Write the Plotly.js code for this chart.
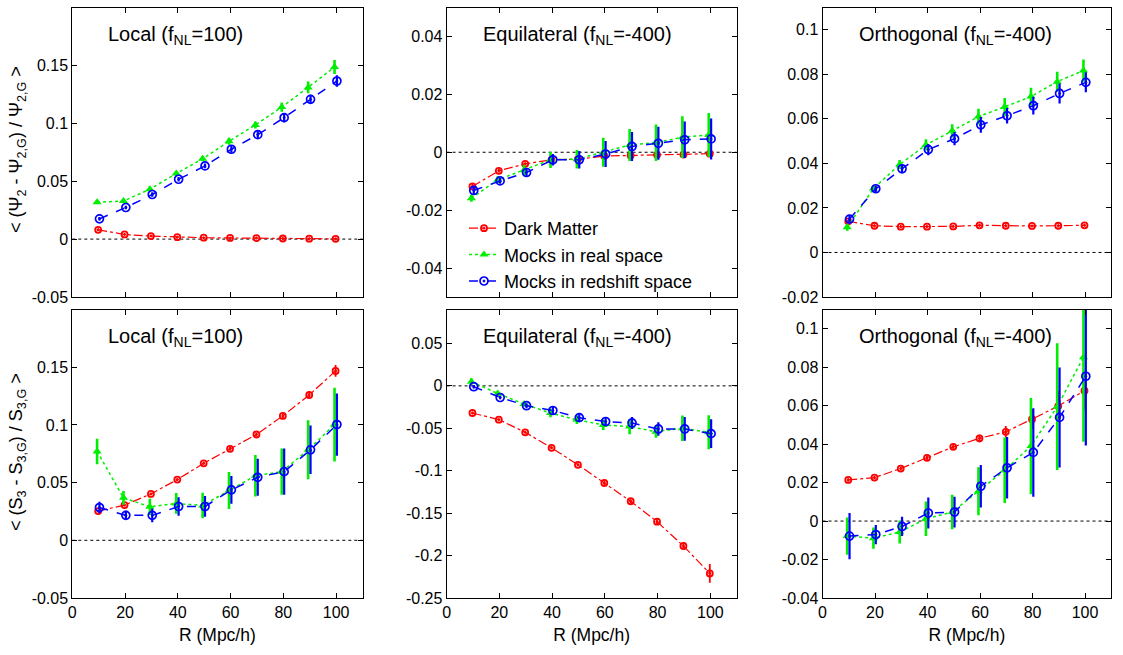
<!DOCTYPE html>
<html>
<head>
<meta charset="utf-8">
<script src="https://cdn.plot.ly/plotly-3.0.1.min.js"></script>
<style>html,body{margin:0;padding:0;background:#fff;}#chart{width:1123px;height:655px;}</style>
</head>
<body>
<div id="chart"></div>
<script>
// ---------- data ----------
const R = [10, 20, 30, 40, 50, 60, 70, 80, 90, 100];
const seriesNames = ["Dark Matter", "Mocks in real space", "Mocks in redshift space"];
const panelTitles = ["Local (f<sub>NL</sub>=100)", "Equilateral (f<sub>NL</sub>=-400)", "Orthogonal (f<sub>NL</sub>=-400)",
                     "Local (f<sub>NL</sub>=100)", "Equilateral (f<sub>NL</sub>=-400)", "Orthogonal (f<sub>NL</sub>=-400)"];
const yTitleTop = "&lt; (Ψ<sub>2</sub> - Ψ<sub>2,G</sub>) / Ψ<sub>2,G</sub> &gt;";
const yTitleBottom = "&lt; (S<sub>3</sub> - S<sub>3,G</sub>) / S<sub>3,G</sub> &gt;";
const xTitle = "R (Mpc/h)";
const xTickVals = [0, 20, 40, 60, 80, 100];
const xTickText = ["0", "20", "40", "60", "80", "100"];

// Psi2 - Local
const psiLocalDM = [0.008, 0.004, 0.0026, 0.0017, 0.0012, 0.001, 0.0009, 0.0005, 0.0004, 0.0002];
const psiLocalDMErr = [0.001, 0.0008, 0.0006, 0.0006, 0.0006, 0.0006, 0.0006, 0.0006, 0.0006, 0.0006];
const psiLocalReal = [0.0319, 0.0328, 0.0431, 0.0566, 0.0693, 0.0845, 0.0986, 0.114, 0.131, 0.1486];
const psiLocalRealErr = [0.0015, 0.0015, 0.002, 0.002, 0.002, 0.003, 0.003, 0.004, 0.005, 0.006];
const psiLocalRsd = [0.0175, 0.0273, 0.0385, 0.0517, 0.0632, 0.0776, 0.0902, 0.1049, 0.1207, 0.1365];
const psiLocalRsdErr = [0.0015, 0.0015, 0.002, 0.002, 0.002, 0.003, 0.003, 0.004, 0.004, 0.005];

// Psi2 - Equilateral
const psiEquilDM = [-0.0118, -0.0064, -0.004, -0.0026, -0.0024, -0.0013, -0.0011, -0.0009, -0.0008, -0.0005];
const psiEquilDMErr = [0.0008, 0.0006, 0.0005, 0.0005, 0.0005, 0.0006, 0.0006, 0.0006, 0.0006, 0.0006];
const psiEquilReal = [-0.0159, -0.0095, -0.0061, -0.0026, -0.0024, 0.0, 0.0025, 0.0033, 0.0052, 0.006];
const psiEquilRealErr = [0.0012, 0.0012, 0.0018, 0.0028, 0.0032, 0.005, 0.0055, 0.0063, 0.0072, 0.0076];
const psiEquilRsd = [-0.0132, -0.0099, -0.007, -0.0026, -0.0026, -0.0006, 0.002, 0.0031, 0.0043, 0.0046];
const psiEquilRsdErr = [0.0015, 0.001, 0.0015, 0.002, 0.003, 0.0045, 0.005, 0.0057, 0.0063, 0.0071];

// Psi2 - Orthogonal
const psiOrthoDM = [0.014, 0.012, 0.0116, 0.0116, 0.0117, 0.0122, 0.012, 0.0119, 0.012, 0.0122];
const psiOrthoDMErr = [0.0005, 0.0005, 0.0005, 0.0005, 0.0005, 0.0005, 0.0005, 0.0005, 0.0005, 0.0005];
const psiOrthoReal = [0.0113, 0.0287, 0.0395, 0.0483, 0.0546, 0.061, 0.0654, 0.070, 0.0767, 0.0817];
const psiOrthoRealErr = [0.0015, 0.0015, 0.002, 0.0025, 0.003, 0.0035, 0.004, 0.004, 0.0045, 0.005];
const psiOrthoRsd = [0.015, 0.0286, 0.0376, 0.0462, 0.0511, 0.0573, 0.0614, 0.0659, 0.0714, 0.0764];
const psiOrthoRsdErr = [0.0015, 0.0015, 0.002, 0.0025, 0.003, 0.0035, 0.0035, 0.004, 0.0045, 0.0045];

// S3 - Local
const s3LocalDM = [0.0253, 0.0305, 0.0402, 0.0526, 0.0667, 0.0793, 0.0917, 0.1078, 0.1259, 0.1468];
const s3LocalDMErr = [0.001, 0.001, 0.001, 0.001, 0.001, 0.0015, 0.0015, 0.002, 0.003, 0.005];
const s3LocalReal = [0.077, 0.0368, 0.029, 0.0319, 0.0302, 0.0431, 0.056, 0.0595, 0.0784, 0.1003];
const s3LocalRealErr = [0.011, 0.006, 0.007, 0.009, 0.011, 0.016, 0.018, 0.02, 0.0256, 0.032];
const s3LocalRsd = [0.0284, 0.0216, 0.0216, 0.0293, 0.0293, 0.0437, 0.0546, 0.0595, 0.0784, 0.1003];
const s3LocalRsdErr = [0.005, 0.004, 0.006, 0.008, 0.009, 0.012, 0.016, 0.02, 0.021, 0.027];

// S3 - Equilateral
const s3EquilDM = [-0.032, -0.0398, -0.0547, -0.073, -0.093, -0.1145, -0.136, -0.160, -0.1887, -0.221];
const s3EquilDMErr = [0.001, 0.001, 0.001, 0.0015, 0.0015, 0.002, 0.002, 0.003, 0.004, 0.011];
const s3EquilReal = [0.005, -0.009, -0.0215, -0.032, -0.04, -0.046, -0.048, -0.054, -0.050, -0.0547];
const s3EquilRealErr = [0.004, 0.003, 0.003, 0.005, 0.005, 0.006, 0.009, 0.007, 0.015, 0.02];
const s3EquilRsd = [-0.001, -0.0137, -0.0234, -0.029, -0.0375, -0.042, -0.0437, -0.0508, -0.0508, -0.0563];
const s3EquilRsdErr = [0.002, 0.002, 0.003, 0.005, 0.004, 0.005, 0.007, 0.008, 0.014, 0.017];

// S3 - Orthogonal
const s3OrthoDM = [0.0214, 0.0226, 0.0273, 0.0329, 0.0386, 0.043, 0.0464, 0.053, 0.0598, 0.0678];
const s3OrthoDMErr = [0.0008, 0.0008, 0.001, 0.0012, 0.0015, 0.002, 0.003, 0.005, 0.008, 0.01];
const s3OrthoReal = [-0.0078, -0.0089, -0.0057, 0.0012, 0.0047, 0.0155, 0.0264, 0.039, 0.0595, 0.0852];
const s3OrthoRealErr = [0.0097, 0.0055, 0.006, 0.009, 0.009, 0.0125, 0.017, 0.025, 0.033, 0.044];
const s3OrthoRsd = [-0.0078, -0.007, -0.0028, 0.0042, 0.0047, 0.0181, 0.0277, 0.0357, 0.0539, 0.0753];
const s3OrthoRsdErr = [0.012, 0.005, 0.005, 0.008, 0.008, 0.011, 0.016, 0.023, 0.026, 0.036];

// y ticks per panel
const yTicks1 = [-0.05, 0, 0.05, 0.1, 0.15, 0.2];
const yTickText1 = ["-0.05", "0", "0.05", "0.1", "0.15", "0.2"];
const yTicks2 = [-0.04, -0.02, 0, 0.02, 0.04];
const yTickText2 = ["-0.04", "-0.02", "0", "0.02", "0.04"];
const yTicks3 = [-0.02, 0, 0.02, 0.04, 0.06, 0.08, 0.1];
const yTickText3 = ["-0.02", "0", "0.02", "0.04", "0.06", "0.08", "0.1"];
const yTicks4 = [-0.05, 0, 0.05, 0.1, 0.15];
const yTickText4 = ["-0.05", "0", "0.05", "0.1", "0.15"];
const yTicks5 = [-0.25, -0.2, -0.15, -0.1, -0.05, 0, 0.05];
const yTickText5 = ["-0.25", "-0.2", "-0.15", "-0.1", "-0.05", "0", "0.05"];
const yTicks6 = [-0.04, -0.02, 0, 0.02, 0.04, 0.06, 0.08, 0.1];
const yTickText6 = ["-0.04", "-0.02", "0", "0.02", "0.04", "0.06", "0.08", "0.1"];

// ---------- construction ----------
const W = 1123, H = 655;
const FONT = "Liberation Sans, Arial, Helvetica, sans-serif";
const panels = [
  {dm: psiLocalDM, dmE: psiLocalDMErr, re: psiLocalReal, reE: psiLocalRealErr, rs: psiLocalRsd, rsE: psiLocalRsdErr, range: [-0.05, 0.2], tv: yTicks1, tt: yTickText1},
  {dm: psiEquilDM, dmE: psiEquilDMErr, re: psiEquilReal, reE: psiEquilRealErr, rs: psiEquilRsd, rsE: psiEquilRsdErr, range: [-0.05, 0.05], tv: yTicks2, tt: yTickText2},
  {dm: psiOrthoDM, dmE: psiOrthoDMErr, re: psiOrthoReal, reE: psiOrthoRealErr, rs: psiOrthoRsd, rsE: psiOrthoRsdErr, range: [-0.02, 0.11], tv: yTicks3, tt: yTickText3},
  {dm: s3LocalDM, dmE: s3LocalDMErr, re: s3LocalReal, reE: s3LocalRealErr, rs: s3LocalRsd, rsE: s3LocalRsdErr, range: [-0.05, 0.2], tv: yTicks4, tt: yTickText4},
  {dm: s3EquilDM, dmE: s3EquilDMErr, re: s3EquilReal, reE: s3EquilRealErr, rs: s3EquilRsd, rsE: s3EquilRsdErr, range: [-0.25, 0.09], tv: yTicks5, tt: yTickText5},
  {dm: s3OrthoDM, dmE: s3OrthoDMErr, re: s3OrthoReal, reE: s3OrthoRealErr, rs: s3OrthoRsd, rsE: s3OrthoRsdErr, range: [-0.04, 0.11], tv: yTicks6, tt: yTickText6}
];

const colPx = [[72.3, 362.5], [446.6, 736.7], [822.5, 1111.3]];
const rowPx = [[7.5, 297], [309.5, 598]];

const styles = [
  {color: "#ff0000", dash: "dashdot", width: 1.2, symbol: "circle-open-dot", size: 6, mlw: 1.8, dx: -0.2, eth: 1.8},
  {color: "#00ee00", dash: "dot", width: 1.5, symbol: "triangle-up", size: 8, mlw: 0, dx: -0.6, eth: 2.6},
  {color: "#0000ff", dash: "dash", width: 1.5, symbol: "circle-open-dot", size: 8, mlw: 1.7, dx: 0.3, eth: 2.2}
];

const traces = [];
const layout = {
  width: W, height: H,
  margin: {l: 0, r: 0, t: 0, b: 0},
  paper_bgcolor: "#ffffff", plot_bgcolor: "#ffffff",
  font: {family: FONT, size: 16, color: "#000"},
  showlegend: true,
  legend: {x: 464 / W, y: 1 - 210 / H, xanchor: "left", yanchor: "top", bgcolor: "rgba(0,0,0,0)",
           font: {family: FONT, size: 18, color: "#000"}, tracegroupgap: 0},
  annotations: [], shapes: []
};

panels.forEach((p, i) => {
  const row = Math.floor(i / 3), col = i % 3;
  const n = i + 1;
  const xa = n === 1 ? "x" : "x" + n, ya = n === 1 ? "y" : "y" + n;
  const xk = n === 1 ? "xaxis" : "xaxis" + n, yk = n === 1 ? "yaxis" : "yaxis" + n;
  layout[xk] = {
    domain: [colPx[col][0] / W, colPx[col][1] / W], anchor: ya, range: [0, 110],
    tickvals: xTickVals, ticktext: xTickText, showticklabels: row === 1,
    ticks: "inside", ticklen: 5, tickcolor: "#000", showline: true, linecolor: "#000", linewidth: 1,
    mirror: "ticks", showgrid: false, zeroline: false, tickfont: {size: 16, family: FONT}
  };
  layout[yk] = {
    domain: [1 - rowPx[row][1] / H, 1 - rowPx[row][0] / H], anchor: xa, range: p.range,
    tickvals: p.tv, ticktext: p.tt, ticks: "inside", ticklen: 5, tickcolor: "#000",
    showline: true, linecolor: "#000", linewidth: 1, mirror: "ticks", showgrid: false, zeroline: false,
    tickfont: {size: 16, family: FONT}
  };
  if (row === 1) {
    layout[xk].title = {text: xTitle, font: {size: 17.5, family: FONT}, standoff: 8};
  }
  // zero line
  layout.shapes.push({type: "line", xref: xa + " domain", yref: ya, x0: 0, x1: 1, y0: 0, y1: 0,
                      line: {color: "#000", width: 1, dash: "dot"}, layer: "below"});
  // panel title
  layout.annotations.push({text: panelTitles[i], xref: "paper", yref: "paper",
    x: (colPx[col][0] + 34) / W, y: 1 - (rowPx[row][0] + 28) / H, xanchor: "left", yanchor: "middle", showarrow: false,
    font: {size: 20, family: FONT, color: "#000"}});

  const ys = [p.dm, p.re, p.rs], es = [p.dmE, p.reE, p.rsE];
  ys.forEach((yv, k) => {
    const s = styles[k];
    traces.push({
      type: "scatter", mode: "lines+markers", name: seriesNames[k],
      x: R.map(r => r + s.dx), y: yv, xaxis: xa, yaxis: ya,
      showlegend: i === 1,
      line: {color: s.color, dash: s.dash, width: s.width},
      marker: {symbol: s.symbol, size: s.size, color: s.color, line: {color: s.color, width: s.mlw}},
      error_y: {type: "data", array: es[k], visible: true, color: s.color, thickness: s.eth, width: 0}
    });
  });
});

// y-axis titles
layout.annotations.push({text: yTitleTop, xref: "paper", yref: "paper", x: 18 / W, y: 1 - 150 / H,
  xanchor: "center", yanchor: "middle", textangle: -90, showarrow: false, font: {size: 18, family: FONT, color: "#000"}});
layout.annotations.push({text: yTitleBottom, xref: "paper", yref: "paper", x: 18 / W, y: 1 - 452 / H,
  xanchor: "center", yanchor: "middle", textangle: -90, showarrow: false, font: {size: 18, family: FONT, color: "#000"}});

Plotly.newPlot("chart", traces, layout, {staticPlot: true, displayModeBar: false});
</script>
</body>
</html>
